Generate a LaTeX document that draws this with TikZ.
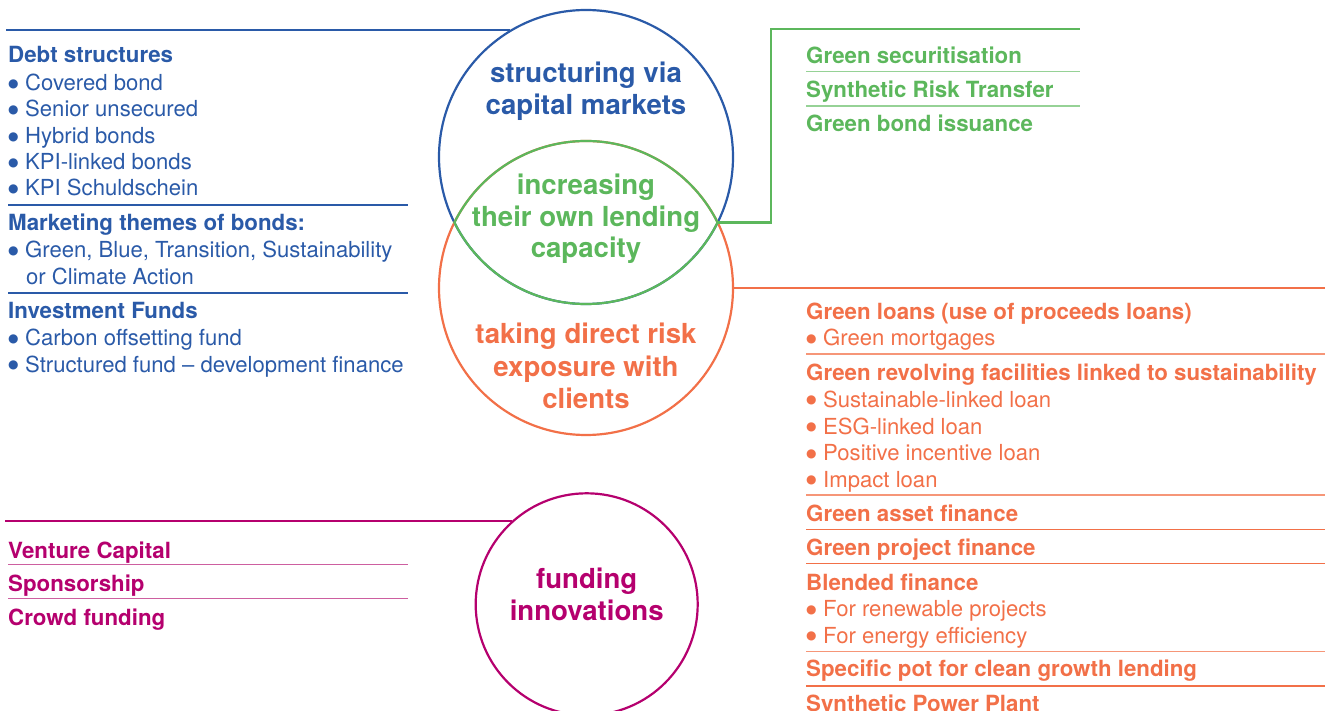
\documentclass[tikz,border=0pt]{standalone}
\usepackage{fontspec}
\setmainfont{TeX Gyre Heros}
\newfontfamily\dejavu{DejaVu Sans}
\definecolor{cblue}{RGB}{42,90,168}
\definecolor{cgreen}{RGB}{92,183,92}
\definecolor{corange}{RGB}{242,112,72}
\definecolor{cmag}{RGB}{181,0,110}
\definecolor{sgreen}{RGB}{150,210,150}
\definecolor{sorange}{RGB}{246,150,120}
\definecolor{smag}{RGB}{205,95,160}
\newcommand\bul{\makebox[17pt][l]{\raisebox{3.4pt}{\dejavu\fontsize{12}{12}\selectfont ●}}}
\begin{document}
\begin{tikzpicture}[x=1pt,y=-1pt,
  item/.style={anchor=base west, inner sep=0pt, font=\fontsize{22.1}{26}\selectfont},
  head/.style={anchor=base west, inner sep=0pt, font=\fontsize{22.3}{26}\selectfont\bfseries},
  ctext/.style={anchor=base, inner sep=0pt, font=\fontsize{27.6}{32}\selectfont\bfseries},
  ring/.style={circle, draw, line width=2.2pt, inner sep=0pt},
  conn/.style={line width=2.5pt},
  sep/.style={line width=1.2pt}]
\useasboundingbox (0,0) rectangle (1325,711);
\clip (0,0) rectangle (1325,711);

% circles
\node[ring, cblue, minimum size=294pt] (capm) at (586,157) {};
\node[ring, corange, minimum size=294pt] (risk) at (586,288) {};
\node[ring, cmag, minimum size=222pt] (innov) at (586.7,604.3) {};
\coordinate (lensL) at (454.4,222.5);
\coordinate (lensR) at (717.6,222.5);
\draw[cgreen, line width=2.2pt] (lensL) arc[start angle=206.46, end angle=333.54, radius=147]
   arc[start angle=26.46, end angle=153.54, radius=147] -- cycle;

% circle texts
\node[ctext, cblue] (c1a) at (586,83) {structuring via};
\node[ctext, cblue] (c1b) at (586,115) {capital markets};
\node[ctext, cgreen] (c2a) at (586,195) {increasing};
\node[ctext, cgreen] (c2b) at (586,226.5) {their own lending};
\node[ctext, cgreen] (c2c) at (586,258) {capacity};
\node[ctext, corange] (c3a) at (586,343.5) {taking direct risk};
\node[ctext, corange] (c3b) at (586,376) {exposure with};
\node[ctext, corange] (c3c) at (586,408) {clients};
\node[ctext, cmag] (c4a) at (586.7,588) {funding};
\node[ctext, cmag] (c4b) at (586.7,620) {innovations};

% connectors
\coordinate (bEnd) at (6,31);
\draw[conn, cblue] (capm.121) -- (capm.121 -| bEnd);
\coordinate (gTop) at (771,29);
\coordinate (gEnd) at (1080,29);
\draw[conn, cgreen] (lensR) -| (gTop) -- (gEnd);
\coordinate (oEnd) at (1325,288);
\draw[conn, corange] (risk.east) -- (oEnd);
\coordinate (mEnd) at (5,521.7);
\draw[conn, cmag] (innov.132) -- (innov.132 -| mEnd);

% left blue list
\begin{scope}[cblue]
\node[head] (d1) at (8,63) {Debt structures};
\node[item] (d2) at (8,90.5) {\bul Covered bond};
\node[item] (d3) at (8,117) {\bul Senior unsecured};
\node[item] (d4) at (8,143.5) {\bul Hybrid bonds};
\node[item] (d5) at (8,170) {\bul KPI-linked bonds};
\node[item] (d6) at (8,196) {\bul KPI Schuldschein};
\draw[sep] (8,205) -- (408,205);
\node[head] (m1) at (8,231) {Marketing themes of bonds:};
\node[item] (m2) at (8,258) {\bul Green, Blue, Transition, Sustainability};
\node[item] (m3) at (8,285) {\makebox[18pt]{}or Climate Action};
\draw[sep] (8,293) -- (408,293);
\node[head] (i1) at (8,319) {Investment Funds};
\node[item] (i2) at (8,345.5) {\bul Carbon offsetting fund};
\node[item] (i3) at (8,372) {\bul Structured fund – development finance};
\end{scope}

% right green list
\begin{scope}[cgreen]
\node[head] (g1) at (806,64) {Green securitisation};
\draw[sep, sgreen] (806,71.7) -- (1080,71.7);
\node[head] (g2) at (806,97.3) {Synthetic Risk Transfer};
\draw[sep, sgreen] (806,106) -- (1080,106);
\node[head] (g3) at (806,131.5) {Green bond issuance};
\end{scope}

% right orange list
\begin{scope}[corange]
\node[head] (o1) at (806,319.3) {Green loans (use of proceeds loans)};
\node[item] (o2) at (806,345.5) {\bul Green mortgages};
\draw[sep, sorange] (806,354) -- (1325,354);
\node[head] (o3) at (806,380.5) {Green revolving facilities linked to sustainability};
\node[item] (o4) at (806,407) {\bul Sustainable-linked loan};
\node[item] (o5) at (806,434) {\bul ESG-linked loan};
\node[item] (o6) at (806,460.5) {\bul Positive incentive loan};
\node[item] (o7) at (806,487) {\bul Impact loan};
\draw[sep, sorange] (806,495) -- (1325,495);
\node[head] (o8) at (806,521.5) {Green asset finance};
\draw[sep] (806,529.3) -- (1325,529.3);
\node[head] (o9) at (806,555.5) {Green project finance};
\draw[sep] (806,563.3) -- (1325,563.3);
\node[head] (o10) at (806,590) {Blended finance};
\node[item] (o11) at (806,616.5) {\bul For renewable projects};
\node[item] (o12) at (806,643) {\bul For energy efficiency};
\draw[sep, sorange] (806,651.7) -- (1325,651.7);
\node[head] (o13) at (806,676.5) {Specific pot for clean growth lending};
\draw[sep] (806,686) -- (1325,686);
\node[head] (o14) at (806,711.5) {Synthetic Power Plant};
\end{scope}

% left magenta list
\begin{scope}[cmag]
\node[head] (v1) at (8,558) {Venture Capital};
\draw[sep, smag] (8,564.5) -- (408,564.5);
\node[head] (v2) at (8,591.5) {Sponsorship};
\draw[sep, smag] (8,598.7) -- (408,598.7);
\node[head] (v3) at (8,625) {Crowd funding};
\end{scope}
\end{tikzpicture}
\end{document}
